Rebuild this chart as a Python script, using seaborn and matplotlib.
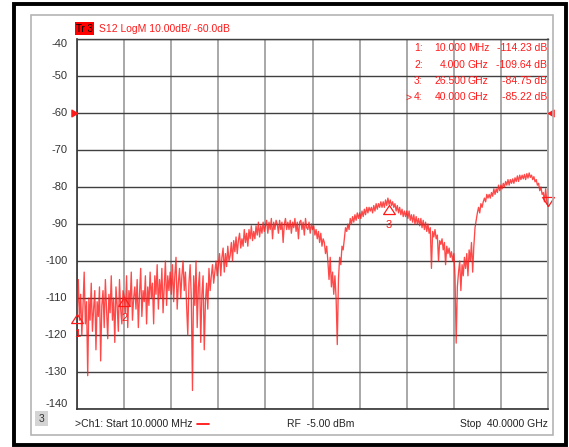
import numpy as np
import matplotlib
matplotlib.use("Agg")
import matplotlib.pyplot as plt
import seaborn as sns
import pandas as pd
from matplotlib.path import Path
from matplotlib.patches import Rectangle
from matplotlib.lines import Line2D

# ---------------- data ----------------
freq_start_ghz = 0.01
freq_stop_ghz = 40.0
s12_db = [
    -114.2, -105, -116, -109, -120, -112, -103, -117, -111, -131,
    -110, -116, -106, -119, -113, -108, -124, -111, -115, -107,
    -127, -112, -108, -118, -105, -113, -121, -109, -114, -104,
    -116, -110, -122, -107, -112, -119, -105, -113, -117, -108,
    -109.6, -114, -104, -118, -108, -112, -103, -116, -110, -107,
    -113, -105, -118, -109, -102, -115, -108, -111, -104, -117,
    -107, -112, -103, -110, -106, -117, -104, -109, -101, -113,
    -105, -110, -102, -114, -107, -100, -112, -104, -108, -103,
    -109, -101, -111, -104, -99, -113, -106, -102, -110, -104,
    -100, -108, -103, -112, -120, -106, -101, -110, -135, -104,
    -112, -100, -118, -107, -103, -122, -109, -104, -124, -111,
    -106, -113, -102, -108, -104, -101, -106, -103, -100, -104,
    -101, -98, -104, -99, -96.5, -103, -98, -101.5, -96, -100,
    -98.5, -95, -100, -94.5, -97.5, -93.5, -98, -94.5, -92.5, -96.5,
    -94, -96, -91.5, -95, -92.5, -96, -91.5, -94, -90.5, -94.5,
    -92, -94, -90.5, -93, -89.5, -93.5, -90.5, -92.5, -89.5, -92,
    -90.5, -89, -92.5, -89.5, -91.5, -88.5, -94, -89.5, -91.5, -89,
    -90, -92.5, -89, -91.5, -89.5, -95, -90, -88.5, -91.5, -89.5,
    -91.5, -89, -92.5, -89.5, -91, -88.5, -92, -89.5, -94, -89.5,
    -89, -91.5, -89.5, -93, -88.5, -91, -91.5, -89.5, -92.5, -90,
    -91.5, -90.5, -93, -91.5, -94, -92, -95, -92.5, -96, -94,
    -95, -98, -96, -100, -105, -99, -107, -103, -109, -104,
    -110, -122.6, -105, -99, -101, -96, -97, -94, -91, -92,
    -90, -91.5, -88.5, -90, -88, -89.5, -87.5, -89, -87, -88.5,
    -87, -88.5, -86.5, -88, -86, -87.5, -85.5, -87, -85.5, -86.5,
    -85.5, -87, -85, -86.5, -84.5, -86, -84.5, -85.5, -84, -85.5,
    -84, -85.5, -83.5, -85, -83, -84.75, -83.5, -85, -84, -85.5,
    -84.5, -86.5, -85, -87, -85.5, -87.5, -86, -88, -86.5, -88,
    -86.5, -88.5, -86.5, -89, -87.5, -89.5, -87.5, -90, -88, -90,
    -88.5, -90.5, -88.5, -91, -89, -91.5, -89.5, -92, -90, -92.5,
    -91, -102, -92, -93.5, -91.5, -94, -93, -100, -94.5, -95.5,
    -94, -97, -95, -101, -96, -98, -96.5, -99, -97.5, -100,
    -98, -104, -122.2, -107, -103, -100, -108, -101, -104, -99,
    -102, -98, -104, -97, -100, -95, -103, -96, -91, -89,
    -87, -85.5, -87, -84.5, -85.5, -84, -83, -84, -82, -83,
    -82, -83, -81.5, -82.5, -80.5, -82, -80.5, -81.5, -79.5, -81,
    -79.5, -80.5, -79, -80, -78.5, -79.5, -78, -79.5, -78, -79,
    -77.8, -79, -77.5, -78.5, -77, -78.5, -76.8, -78, -76.8, -77.8,
    -76.6, -78, -76.4, -77.6, -76.2, -77.4, -76.8, -78, -77.2, -78.6,
    -78, -79.5, -79, -81, -80, -82, -81.5, -84, -80.5, -84,
    -85.2,
]
freq_ghz = np.linspace(freq_start_ghz, freq_stop_ghz, len(s12_db))

marker_ids = ["1", "2", "3", "4"]
marker_freq_ghz = [0.01, 4.0, 26.5, 40.0]
marker_db = [-114.23, -109.64, -84.75, -85.22]
marker_freq_num = ["10.000", "4.000", "26.500", "40.000"]
marker_freq_unit = ["MHz", "GHz", "GHz", "GHz"]
y_ticks = [-40, -50, -60, -70, -80, -90, -100, -110, -120, -130, -140]
x_ticks = [0, 4, 8, 12, 16, 20, 24, 28, 32, 36, 40]
ref_level_db = -60

# ---------------- style ----------------
sns.set_theme(style="white")
plt.rcParams["font.family"] = ["Liberation Sans", "DejaVu Sans"]

W, H = 569, 447
fig = plt.figure(figsize=(W / 100, H / 100), dpi=100)
fig.patch.set_facecolor("white")

def fx(x):
    return x / W

def fy(y):
    return 1 - y / H

ax_l, ax_r, ax_t, ax_b = 77, 548, 39, 409
ax = fig.add_axes([fx(ax_l), fy(ax_b), (ax_r - ax_l) / W, (ax_b - ax_t) / H])
ax.set_facecolor("white")

RED = "#ff1a1a"
df = pd.DataFrame({"freq": freq_ghz, "s12": s12_db})
sns.lineplot(data=df, x="freq", y="s12", ax=ax, color=RED, lw=0.95, alpha=0.8,
             estimator=None, sort=False, zorder=3)

ax.set_xlim(0, 40)
ax.set_ylim(-140, -40)
ax.set_xticks(x_ticks)
ax.set_yticks(y_ticks)
ax.set_xticklabels([])
ax.set_yticklabels([str(v) for v in y_ticks])
ax.set_xlabel("")
ax.set_ylabel("")
ax.tick_params(axis="both", length=0)
ax.tick_params(axis="y", pad=7, labelsize=8, labelcolor="#333333")
ax.xaxis.grid(True, color="#a8a8a8", lw=1.4)
ax.yaxis.grid(True, color="#404040", lw=1.0)
ax.set_axisbelow(True)
for side, col, lw in [("left", "#333333", 1.2), ("bottom", "#333333", 1.2),
                      ("top", "#404040", 1.0), ("right", "#a8a8a8", 1.4)]:
    ax.spines[side].set_visible(True)
    ax.spines[side].set_color(col)
    ax.spines[side].set_linewidth(lw)

for lab in ax.get_yticklabels():
    txt = lab.get_text().replace("\u2212", "-")
    if txt == "-40":
        lab.set_verticalalignment("top")
    elif txt == "-140":
        lab.set_verticalalignment("bottom")
    else:
        lab.set_verticalalignment("center")

# reference level arrows
right_ptr = Path([(0, 0), (-1, 0.6), (-1, -0.6), (0, 0)],
                 [Path.MOVETO, Path.LINETO, Path.LINETO, Path.CLOSEPOLY])
left_ptr = Path([(0, 0), (1, 0.6), (1, -0.6), (0, 0)],
                [Path.MOVETO, Path.LINETO, Path.LINETO, Path.CLOSEPOLY])
ax.plot([0], [ref_level_db], marker=right_ptr, ms=8, color=RED, mec=RED,
        clip_on=False, zorder=5, ls="none")
ax.plot([40], [ref_level_db], marker=left_ptr, ms=8, color=RED, mec=RED,
        clip_on=False, zorder=5, ls="none")

# trace markers
up_tri = Path([(0, 0), (-0.65, -1), (0.65, -1), (0, 0)],
              [Path.MOVETO, Path.LINETO, Path.LINETO, Path.CLOSEPOLY])
down_tri = Path([(0, 0), (-0.65, 1), (0.65, 1), (0, 0)],
                [Path.MOVETO, Path.LINETO, Path.LINETO, Path.CLOSEPOLY])
for mid, mf, mv in zip(marker_ids, marker_freq_ghz, marker_db):
    active = mid == "4"
    ax.plot([mf], [mv], marker=down_tri if active else up_tri, ms=13,
            mfc="none", mec=RED, mew=0.9, clip_on=False, zorder=6, ls="none")
    if not active:
        ax.annotate(mid, (mf, mv), xytext=(0, -15), textcoords="offset points",
                    ha="center", va="center", color=RED, fontsize=8,
                    annotation_clip=False, zorder=6)

# ---------------- frame & annotation text ----------------
fig.add_artist(Rectangle((fx(13.5), fy(445)), fx(566 - 13.5), (445 - 3.5) / H,
                         transform=fig.transFigure, fill=False, ec="black", lw=2.8))
fig.add_artist(Rectangle((fx(30.5), fy(435)), fx(552.5 - 30.5), (435 - 14.5) / H,
                         transform=fig.transFigure, fill=False, ec="#b4b4b4", lw=1.2))

FS = 7.5
# header
fig.add_artist(Rectangle((fx(75), fy(35)), fx(19), 13 / H, transform=fig.transFigure,
                         fc="#ff0000", ec="none"))
fig.text(fx(84.5), fy(29), "Tr 3", ha="center", va="center", fontsize=7, color="black")
fig.text(fx(99), fy(29), "S12 LogM 10.00dB/ -60.0dB", ha="left", va="center",
         fontsize=FS, color=RED)

# marker table
row_y = [48, 64.5, 81, 97.5]
for mid, fnum, funit, mv, yy in zip(marker_ids, marker_freq_num, marker_freq_unit,
                                     marker_db, row_y):
    if mid == "4":
        fig.text(fx(406), fy(yy), ">", ha="left", va="center", fontsize=FS, color=RED)
    fig.text(fx(414), fy(yy), f"{mid}:", ha="left", va="center", fontsize=FS, color=RED)
    fig.text(fx(466), fy(yy), fnum, ha="right", va="center", fontsize=FS, color=RED)
    fig.text(fx(468), fy(yy), funit, ha="left", va="center", fontsize=FS, color=RED)
    fig.text(fx(547), fy(yy), f"{mv:.2f} dB", ha="right", va="center", fontsize=FS,
             color=RED)

# footer
fig.add_artist(Rectangle((fx(35), fy(426)), fx(13), 15 / H, transform=fig.transFigure,
                         fc="#d4d4d4", ec="none"))
fig.text(fx(41.5), fy(418.5), "3", ha="center", va="center", fontsize=FS, color="#333333")
fig.text(fx(75), fy(424), ">Ch1: Start 10.0000 MHz", ha="left", va="center",
         fontsize=FS, color="#222222")
fig.add_artist(Line2D([fx(197), fx(209)], [fy(424), fy(424)], transform=fig.transFigure,
                      color="#ff0000", lw=1.2))
fig.text(fx(287), fy(424), "RF  -5.00 dBm", ha="left", va="center", fontsize=FS,
         color="#222222")
fig.text(fx(548), fy(424), "Stop  40.0000 GHz", ha="right", va="center", fontsize=FS,
         color="#222222")

fig.savefig("out.png", dpi=100, facecolor="white")
